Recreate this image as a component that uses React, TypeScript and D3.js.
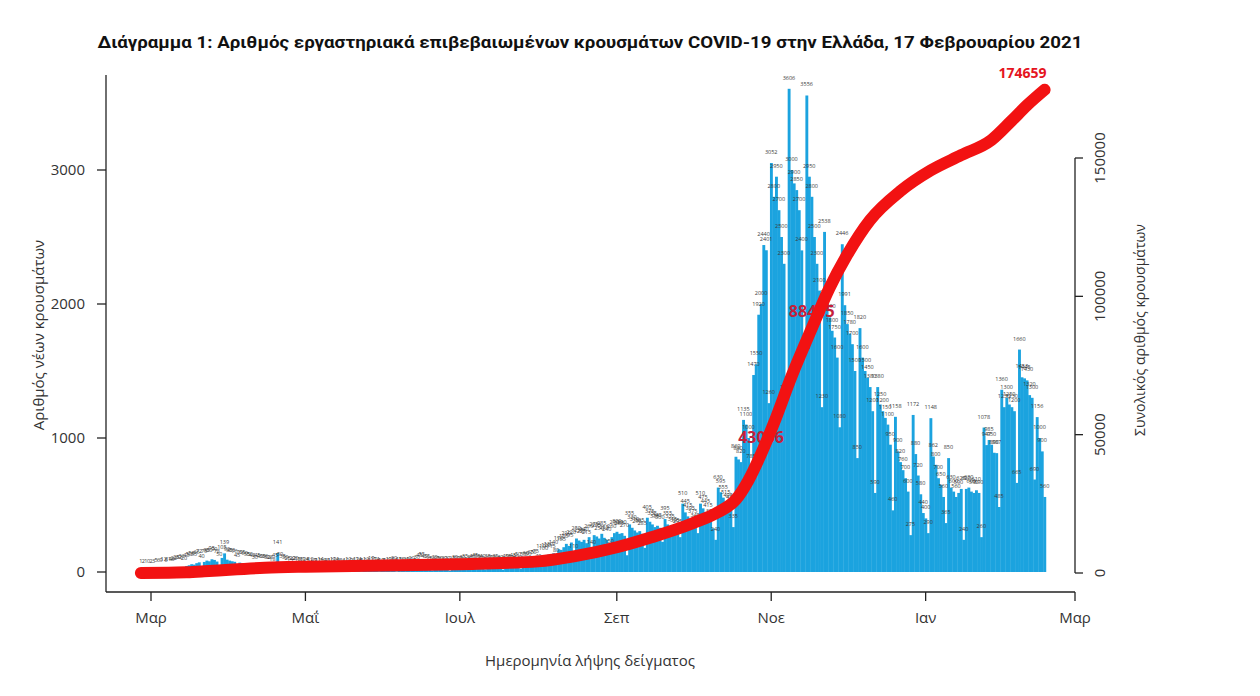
import React from "react";
import * as d3 from "d3";

// ---- daily lab-confirmed cases by sample date, from 26 Feb 2020 ----
const feb2020 = [1, 2, 1, 0];
const mar2020 = [2, 3, 5, 6, 9, 12, 5, 14, 18, 22, 28, 32, 36, 20, 45, 50, 58, 55, 66, 72, 40, 75, 85, 80, 95, 90, 78, 50, 105, 139, 92];
const apr2020 = [85, 80, 76, 45, 70, 65, 60, 55, 50, 48, 30, 45, 40, 38, 36, 32, 28, 18, 45, 141, 50, 35, 30, 25, 14, 22, 20, 18, 16, 12];
const may2020 = [14, 5, 12, 10, 9, 11, 14, 10, 4, 8, 10, 12, 14, 9, 8, 3, 10, 12, 9, 8, 12, 14, 5, 10, 12, 8, 19, 17, 14, 6, 10];
const jun2020 = [8, 10, 12, 15, 20, 5, 15, 12, 10, 18, 14, 20, 8, 30, 45, 55, 40, 35, 25, 12, 30, 25, 20, 18, 22, 20, 10, 25, 30, 20];
const jul2020 = [25, 30, 35, 15, 30, 40, 45, 35, 30, 40, 20, 35, 30, 28, 35, 25, 30, 18, 40, 35, 30, 45, 40, 50, 25, 55, 60, 50, 65, 70, 75];
const aug2020 = [40, 110, 100, 120, 130, 115, 140, 80, 170, 165, 185, 210, 195, 220, 110, 250, 235, 225, 240, 215, 260, 140, 275, 265, 250, 285, 255, 240, 150, 260, 290];
const sep2020 = [300, 285, 290, 270, 125, 355, 330, 310, 295, 305, 285, 180, 405, 375, 355, 335, 345, 330, 225, 395, 355, 335, 315, 305, 295, 260, 510, 445, 415, 395];
const oct2020 = [375, 345, 290, 510, 475, 445, 415, 375, 325, 240, 630, 595, 555, 515, 495, 475, 335, 860, 840, 820, 1135, 1100, 1000, 785, 1470, 1550, 1920, 2000, 2440, 2401, 1260];
const nov2020 = [3052, 2800, 2950, 2700, 2500, 2300, 1300, 3606, 3000, 2900, 2850, 2700, 2400, 1600, 3556, 2950, 2800, 2500, 2300, 2100, 1230, 2538, 2011, 1900, 1800, 1750, 1600, 1080, 2446, 1991];
const dec2020 = [1850, 1780, 1700, 1500, 850, 1820, 1600, 1500, 1450, 1380, 1200, 590, 1380, 1250, 1200, 1150, 1100, 950, 460, 1158, 900, 820, 760, 700, 600, 275, 1172, 880, 720, 580, 440];
const jan2021 = [400, 290, 1148, 862, 800, 700, 650, 560, 365, 850, 630, 600, 560, 590, 620, 240, 620, 630, 600, 590, 610, 590, 260, 1078, 947, 985, 950, 890, 887, 485, 1360];
const feb2021 = [1230, 1300, 1250, 1230, 1200, 665, 1660, 1453, 1445, 1430, 1320, 1300, 690, 1156, 1000, 900, 560];

// ---- cumulative total (right axis) ----
const cumDates = [
  "2020-02-26", "2020-03-08", "2020-03-15", "2020-03-22", "2020-04-01", "2020-04-15", "2020-05-01",
  "2020-06-01", "2020-07-01", "2020-08-01", "2020-08-15", "2020-09-01", "2020-09-15", "2020-10-01",
  "2020-10-11", "2020-10-18", "2020-10-23", "2020-10-28", "2020-11-02", "2020-11-09", "2020-11-17",
  "2020-11-24", "2020-12-01", "2020-12-10", "2020-12-22", "2021-01-03", "2021-01-15", "2021-01-27",
  "2021-02-04", "2021-02-10", "2021-02-17",
];
const cumValues = [
  0, 60, 250, 600, 1200, 1900, 2300,
  2700, 3200, 4200, 6000, 9300, 13000, 18000,
  22000, 26500, 33500, 43056, 54000, 71000, 88405,
  103000, 115000, 127500, 138000, 145500, 151000, 156500,
  163500, 169000, 174659,
];
const labelledCumValues = [43056, 88405];

const leftTicks = [0, 1000, 2000, 3000];
const rightTicks = [0, 50000, 100000, 150000];
const monthTickDates = ["2020-03-01", "2020-05-01", "2020-07-01", "2020-09-01", "2020-11-01", "2021-01-01", "2021-03-01"];
const monthLabels = ["Μαρ", "Μαΐ", "Ιουλ", "Σεπ", "Νοε", "Ιαν", "Μαρ"];

const title = "Διάγραμμα 1: Αριθμός εργαστηριακά επιβεβαιωμένων κρουσμάτων COVID-19 στην Ελλάδα, 17 Φεβρουαρίου 2021";

const parse = d3.timeParse("%Y-%m-%d");
const dailyCases = [
  ...feb2020, ...mar2020, ...apr2020, ...may2020, ...jun2020, ...jul2020,
  ...aug2020, ...sep2020, ...oct2020, ...nov2020, ...dec2020, ...jan2021, ...feb2021,
];
const firstDay = parse("2020-02-26") as Date;
const dates = dailyCases.map((_, i) => d3.timeDay.offset(firstDay, i));
const cumPoints = cumDates.map((s, i) => ({ date: parse(s) as Date, value: cumValues[i] }));
const monthTicks = monthTickDates.map((s) => parse(s) as Date);

export default function App() {
  const W = 1260, H = 696;
  const x = d3.scaleTime().domain([monthTicks[0], monthTicks[monthTicks.length - 1]]).range([151, 1075]);
  const yL = d3.scaleLinear().domain([0, 1000]).range([572, 438]);
  const yR = d3.scaleLinear().domain([0, 150000]).range([573, 158]);
  const dayW = x(d3.timeDay.offset(monthTicks[0], 1)) - x(monthTicks[0]);

  const line = d3.line<{ date: Date; value: number }>()
    .x((d) => x(d.date))
    .y((d) => yR(d.value))
    .curve(d3.curveMonotoneX);

  const font = "'Open Sans', 'DejaVu Sans', sans-serif";
  const blue = "#1ba3df";
  const red = "#f21212";
  const last = cumPoints[cumPoints.length - 1];

  return (
    <svg width={W} height={H} style={{ position: "absolute", left: 0, top: 0, background: "#fff" }} fontFamily={font}>
      <rect x={0} y={0} width={W} height={H} fill="#fff" />
      <text x={590} y={48} textAnchor="middle" fontSize={17} fontWeight={700} fill="#111"
        textLength={985} lengthAdjust="spacingAndGlyphs" fontFamily="Roboto, 'Open Sans', sans-serif">{title}</text>

      {/* bars */}
      <g>
        {dailyCases.map((v, i) => (
          <rect key={i} x={x(dates[i]) - dayW / 2} y={yL(v)} width={dayW + 0.35} height={yL(0) - yL(v)} fill={blue} />
        ))}
      </g>
      {/* bar value labels */}
      <g fontSize={5.5} fill="#3a3a3a" textAnchor="middle">
        {dailyCases.map((v, i) => (
          <text key={i} x={x(dates[i])} y={yL(v) - 9}>{v}</text>
        ))}
      </g>

      {/* labels of the cumulative curve (drawn under the curve) */}
      <g fontSize={16} fontWeight={700} fill="#c4203a" textAnchor="middle">
        {labelledCumValues.map((v) => {
          const p = cumPoints.find((q) => q.value === v)!;
          return <text key={v} x={x(p.date)} y={yR(v) - 11}>{v}</text>;
        })}
      </g>

      {/* cumulative line */}
      <path d={line(cumPoints) || ""} fill="none" stroke={red} strokeWidth={12} strokeLinecap="round" strokeLinejoin="round" />
      <text x={x(last.date) - 22} y={yR(last.value) - 12} textAnchor="middle" fontSize={14} fontWeight={700} fill="#e5141e">
        {last.value}
      </text>

      {/* left axis */}
      <line x1={106} x2={106} y1={75} y2={592} stroke="#222" strokeWidth={1.3} />
      {leftTicks.map((t) => (
        <g key={t}>
          <line x1={97} x2={106} y1={yL(t)} y2={yL(t)} stroke="#222" strokeWidth={1.3} />
          <text x={85} y={yL(t) + 5} textAnchor="end" fontSize={15} fill="#333">{t}</text>
        </g>
      ))}
      <text transform={`translate(44,335) rotate(-90)`} textAnchor="middle" fontSize={15} fill="#333">Αριθμός νέων κρουσμάτων</text>

      {/* bottom axis */}
      <line x1={106} x2={x(monthTicks[monthTicks.length - 1])} y1={592} y2={592} stroke="#222" strokeWidth={1.3} />
      {monthTicks.map((d, k) => (
        <g key={k}>
          <line x1={x(d)} x2={x(d)} y1={592} y2={601} stroke="#222" strokeWidth={1.3} />
          <text x={x(d)} y={623} textAnchor="middle" fontSize={15} fill="#333">{monthLabels[k]}</text>
        </g>
      ))}
      <text x={590} y={666} textAnchor="middle" fontSize={15} fill="#333">Ημερομηνία λήψης δείγματος</text>

      {/* right axis */}
      <line x1={1075} x2={1075} y1={yR(150000)} y2={yR(0)} stroke="#222" strokeWidth={1.3} />
      {rightTicks.map((t) => (
        <g key={t}>
          <line x1={1075} x2={1083} y1={yR(t)} y2={yR(t)} stroke="#222" strokeWidth={1.3} />
          <text transform={`translate(1105,${yR(t)}) rotate(-90)`} textAnchor="middle" fontSize={15} fill="#333">{t}</text>
        </g>
      ))}
      <text transform={`translate(1145,330) rotate(-90)`} textAnchor="middle" fontSize={14} fill="#333">Συνολικός αριθμός κρουσμάτων</text>
    </svg>
  );
}
